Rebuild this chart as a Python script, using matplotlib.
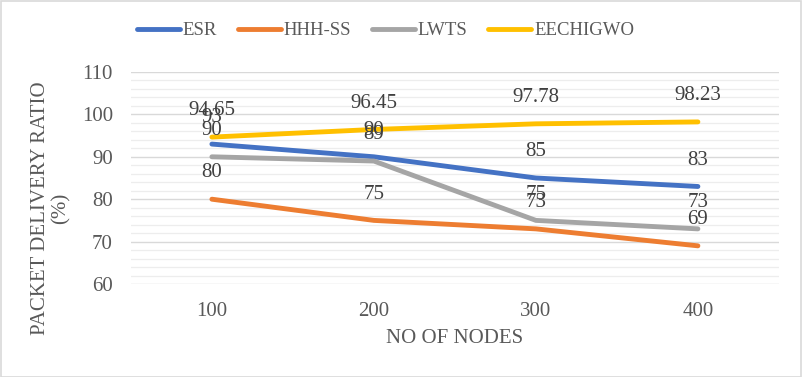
import matplotlib
matplotlib.use('Agg')
import matplotlib.pyplot as plt
from matplotlib.ticker import MultipleLocator

plt.rcParams['font.family'] = ['Liberation Serif', 'DejaVu Serif']

nodes = ['100', '200', '300', '400']
esr = [93, 90, 85, 83]
hhh_ss = [80, 75, 73, 69]
lwts = [90, 89, 75, 73]
eechigwo = [94.65, 96.45, 97.78, 98.23]

series = [('ESR', esr, '#4472C4'), ('HHH-SS', hhh_ss, '#ED7D31'),
          ('LWTS', lwts, '#A5A5A5'), ('EECHIGWO', eechigwo, '#FFC000')]
TXT = '#595959'

fig = plt.figure(figsize=(8.03, 3.77), dpi=100)
ax = fig.add_axes([0.163, 0.2467, 0.807, 0.5623])
x = list(range(len(nodes)))
for name, vals, col in series:
    ax.plot(x, vals, color=col, lw=3.5, solid_capstyle='round', solid_joinstyle='round', label=name, zorder=3)
    for xi, v in zip(x, vals):
        ax.annotate(f'{v:g}', (xi, v), xytext=(0, 19), textcoords='offset points',
                    ha='center', va='center', fontsize=15, color='#404040', zorder=4)

ax.set_xlim(-0.5, 3.5)
ax.set_ylim(60, 110)
ax.yaxis.set_major_locator(MultipleLocator(10))
ax.yaxis.set_minor_locator(MultipleLocator(2))
ax.grid(axis='y', which='major', color='#D9D9D9', lw=1.0, zorder=0)
ax.grid(axis='y', which='minor', color='#EDEDED', lw=0.9, zorder=0)
ax.set_xticks(x)
ax.set_xticklabels(nodes)
ax.tick_params(axis='both', which='both', length=0, labelsize=15, labelcolor=TXT)
ax.tick_params(axis='x', pad=13)
ax.tick_params(axis='y', pad=13)
for s in ax.spines.values():
    s.set_visible(False)
ax.set_xlabel('NO OF NODES', fontsize=15, color=TXT, labelpad=6)
ax.set_ylabel('PACKET DELIVERY RATIO\n(%)', fontsize=15, color=TXT, linespacing=1.1,
              va='center', ha='center')
ax.yaxis.set_label_coords(-0.123, 0.357)

fig.legend(loc='center', bbox_to_anchor=(0.48, 0.918), ncol=4, frameon=False,
           fontsize=13.5, handlelength=2.3, handletextpad=0.15, columnspacing=1.1,
           labelcolor=TXT)

fig.add_artist(plt.Rectangle((0.001, 0.001), 0.997, 0.997, transform=fig.transFigure,
                             fill=False, edgecolor='#D9D9D9', lw=1.2))
fig.savefig('out.png', dpi=100)
